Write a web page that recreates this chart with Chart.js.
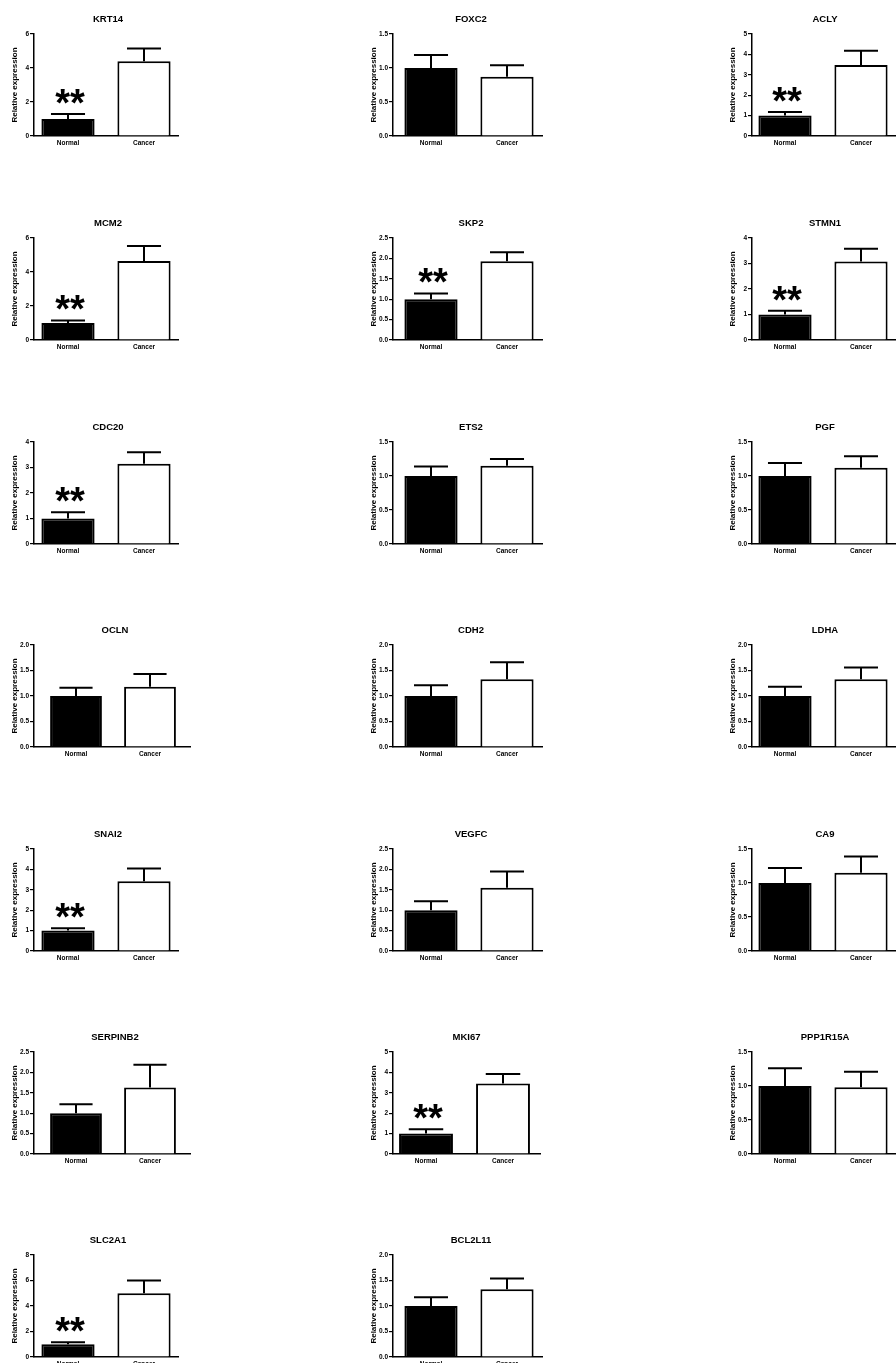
<!DOCTYPE html>
<html>
<head>
<meta charset="utf-8">
<script src="https://cdn.jsdelivr.net/npm/chart.js@4.4.1/dist/chart.umd.min.js"></script>
<style>
    body { margin: 0; background: #fff; width: 896px; height: 1363px; overflow: hidden; position: relative; }
    .panel { position: absolute; height: 165px; }
</style>
</head>
<body>
<script>
// ============ Data ============
const groups = ['Normal', 'Cancer'];
const genes = ['KRT14', 'FOXC2', 'ACLY', 'MCM2', 'SKP2', 'STMN1', 'CDC20', 'ETS2', 'PGF', 'OCLN',
               'CDH2', 'LDHA', 'SNAI2', 'VEGFC', 'CA9', 'SERPINB2', 'MKI67', 'PPP1R15A', 'SLC2A1', 'BCL2L11'];
const normalMean = [1.0, 1.0, 1.0, 1.0, 1.0, 1.0, 1.0, 1.0, 1.0, 1.0,
                    1.0, 1.0, 1.0, 1.0, 1.0, 1.0, 1.0, 1.0, 1.0, 1.0];
const normalSem  = [0.30, 0.19, 0.18, 0.15, 0.14, 0.15, 0.25, 0.14, 0.19, 0.16,
                    0.21, 0.18, 0.12, 0.22, 0.22, 0.22, 0.21, 0.26, 0.16, 0.17];
const cancerMean = [4.40, 0.87, 3.48, 4.65, 1.93, 3.08, 3.15, 1.15, 1.12, 1.18,
                    1.33, 1.33, 3.42, 1.55, 1.15, 1.63, 3.45, 0.98, 5.00, 1.33];
const cancerSem  = [0.75, 0.17, 0.70, 0.88, 0.22, 0.50, 0.45, 0.10, 0.17, 0.25,
                    0.33, 0.23, 0.63, 0.40, 0.24, 0.56, 0.47, 0.23, 1.00, 0.21];
const yMax  = [6, 1.5, 5, 6, 2.5, 4, 4, 1.5, 1.5, 2, 2, 2, 5, 2.5, 1.5, 2.5, 5, 1.5, 8, 2];
const yStep = [2, 0.5, 1, 2, 0.5, 1, 1, 0.5, 0.5, 0.5, 0.5, 0.5, 1, 0.5, 0.5, 0.5, 1, 0.5, 2, 0.5];
const significant = [true, false, true, true, true, true, true, false, false, false,
                     false, false, true, false, false, false, true, false, true, false];

// ============ Layout ============
const COL_LEFT = [0, 359, 718];
const ROW_TOP = [0, 204, 408, 611, 815, 1018, 1221];
const AXIS_X = 34;        // y axis position inside a panel
// bar centres and x-axis end (panel px), per column, [integer ticks, decimal ticks]
const GEOM = [
    [{ c1: 68, c2: 144, end: 178 }, { c1: 76, c2: 150, end: 190 }],
    [{ c1: 67, c2: 144, end: 181 }, { c1: 72, c2: 148, end: 183 }],
    [{ c1: 67, c2: 143, end: 190 }, { c1: 67, c2: 143, end: 190 }]
];
const FONT = '"Liberation Sans", Arial, Helvetica, sans-serif';

Chart.defaults.font.family = FONT;
Chart.defaults.color = '#000';

// error bars (upper SEM), "**" marks and panel titles
const decorPlugin = {
    id: 'decor',
    afterDatasetsDraw(chart, args, opts) {
        const { ctx } = chart;
        const y = chart.scales.y;
        const ds = chart.data.datasets[0];
        const meta = chart.getDatasetMeta(0);
        ctx.save();
        ctx.strokeStyle = '#000';
        ctx.lineWidth = 2;
        meta.data.forEach((bar, i) => {
            const top = y.getPixelForValue(ds.data[i].y + ds.sem[i]);
            const half = bar.width * 0.32;
            ctx.beginPath();
            ctx.moveTo(bar.x, bar.y);
            ctx.lineTo(bar.x, top);
            ctx.moveTo(bar.x - half, top);
            ctx.lineTo(bar.x + half, top);
            ctx.stroke();
        });

        if (opts.star) {
            const bar = meta.data[0];
            const top = y.getPixelForValue(ds.data[0].y + ds.sem[0]);
            ctx.fillStyle = '#000';
            ctx.font = 'bold 38px ' + FONT;
            ctx.textAlign = 'center';
            ctx.textBaseline = 'alphabetic';
            ctx.fillText('**', bar.x + 2, top - 19 + 21);
        }

        ctx.fillStyle = '#000';
        ctx.font = 'bold 9.5px ' + FONT;
        ctx.textAlign = 'center';
        ctx.textBaseline = 'middle';
        ctx.fillText(opts.title, opts.titleX, 19);
        ctx.restore();
    }
};

function makePanel(i) {
    const col = i % 3;
    const row = Math.floor(i / 3);
    const step = yStep[i];
    const g = GEOM[col][step < 1 ? 1 : 0];
    const unit = g.c2 - g.c1;
    const xMin = 1 - (g.c1 - AXIS_X) / unit;
    const xMax = 2 + (g.end - g.c2) / unit;

    const div = document.createElement('div');
    div.className = 'panel';
    div.style.left = COL_LEFT[col] + 'px';
    div.style.top = ROW_TOP[row] + 'px';
    const canvas = document.createElement('canvas');
    canvas.width = g.end + 2;
    canvas.height = 165;
    div.style.width = canvas.width + 'px';
    div.appendChild(canvas);
    document.body.appendChild(div);

    new Chart(canvas.getContext('2d'), {
        type: 'bar',
        data: {
            datasets: [{
                data: [{ x: 1, y: normalMean[i] }, { x: 2, y: cancerMean[i] }],
                sem: [normalSem[i], cancerSem[i]],
                backgroundColor: ['#000', '#fff'],
                borderColor: '#000',
                borderWidth: 2,
                categoryPercentage: 1,
                barPercentage: 0.7
            }]
        },
        options: {
            responsive: false,
            animation: false,
            layout: { padding: { left: 0, right: 2, top: 34, bottom: 14 } },
            plugins: {
                legend: { display: false },
                tooltip: { enabled: false },
                decor: { title: genes[i], star: significant[i], titleX: (g.c1 + g.c2) / 2 + 2 }
            },
            scales: {
                x: {
                    type: 'linear',
                    offset: false,
                    min: xMin,
                    max: xMax,
                    grid: { display: false, drawTicks: false, offset: false },
                    border: { display: true, color: '#000', width: 1.5 },
                    afterBuildTicks: s => { s.ticks = [{ value: 1 }, { value: 2 }]; },
                    ticks: {
                        font: { size: 6.5, weight: 'bold' },
                        padding: 3,
                        color: '#000',
                        autoSkip: false,
                        maxRotation: 0,
                        callback: (v, idx) => groups[idx]
                    },
                    afterFit: s => { s.height = 15; }
                },
                y: {
                    min: 0,
                    max: yMax[i],
                    grid: { display: true, drawOnChartArea: false, drawTicks: true, tickLength: 4, color: '#000', lineWidth: 1.2 },
                    border: { display: true, color: '#000', width: 1.5 },
                    ticks: {
                        stepSize: step,
                        padding: 1,
                        color: '#000',
                        font: { size: 6.5, weight: 'bold' },
                        callback: v => step < 1 ? Number(v).toFixed(1) : String(v)
                    },
                    title: {
                        display: true,
                        text: 'Relative expression',
                        color: '#000',
                        font: { size: 8, weight: 'bold' },
                        padding: { top: 10, bottom: 0 }
                    },
                    afterFit: s => { s.width = AXIS_X; }
                }
            }
        },
        plugins: [decorPlugin]
    });
}

// ============ Initialize ============
genes.forEach((g, i) => makePanel(i));
</script>
</body>
</html>
